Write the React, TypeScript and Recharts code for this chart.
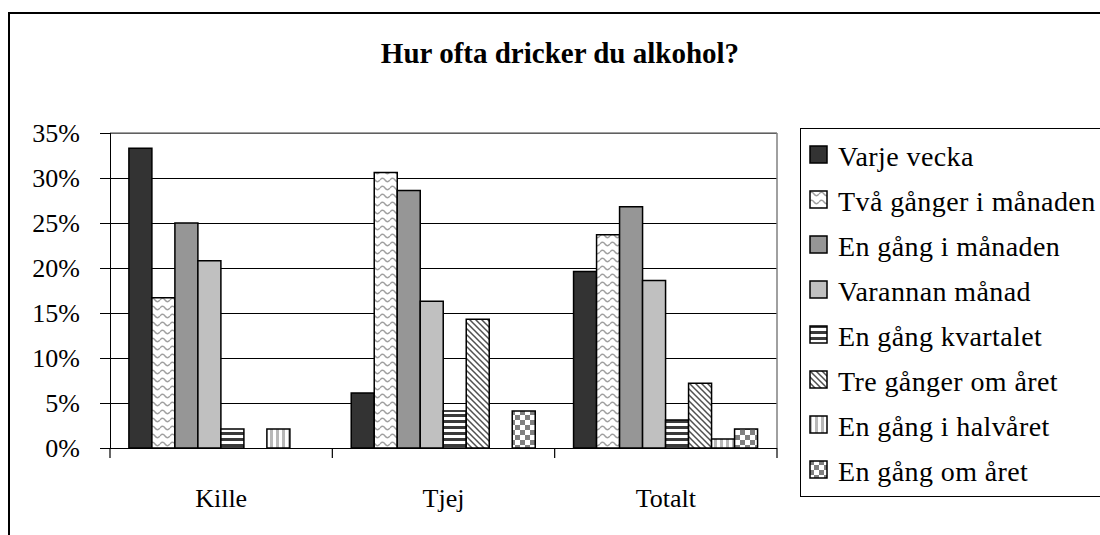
import React from 'react';
import { BarChart, Bar, XAxis, YAxis, CartesianGrid, ReferenceLine } from 'recharts';

const categories = ['Kille', 'Tjej', 'Totalt'];
const seriesNames = [
  'Varje vecka',
  'Två gånger i månaden',
  'En gång i månaden',
  'Varannan månad',
  'En gång kvartalet',
  'Tre gånger om året',
  'En gång i halvåret',
  'En gång om året',
];
const varjeVecka = [0.333, 0.061, 0.196];
const tvaGangerIManaden = [0.167, 0.306, 0.237];
const enGangIManaden = [0.25, 0.286, 0.268];
const varannanManad = [0.208, 0.163, 0.186];
const enGangKvartalet = [0.021, 0.041, 0.031];
const treGangerOmAret = [0, 0.143, 0.072];
const enGangIHalvaret = [0.021, 0, 0.01];
const enGangOmAret = [0, 0.041, 0.021];
const yTicks = [0, 0.05, 0.1, 0.15, 0.2, 0.25, 0.3, 0.35];
const boundaryTicks = [0, 1, 2, 3];

const seriesValues = [
  varjeVecka,
  tvaGangerIManaden,
  enGangIManaden,
  varannanManad,
  enGangKvartalet,
  treGangerOmAret,
  enGangIHalvaret,
  enGangOmAret,
];
const seriesFills = [
  '#333333',
  'url(#pWave)',
  '#969696',
  '#c0c0c0',
  'url(#pHStripe)',
  'url(#pDiag)',
  'url(#pVStripe)',
  'url(#pCheck)',
];

// slot = category index + 0.5, used by the boundary-tick numeric axis
const data = categories.map((c, i) => {
  const row: Record<string, string | number> = { name: c, slot: i + 0.5 };
  seriesNames.forEach((s, j) => {
    row[s] = seriesValues[j][i];
  });
  return row;
});

const FONT = '"Liberation Serif", "Times New Roman", serif';

function Patterns() {
  return (
    <svg width="0" height="0" style={{ position: 'absolute' }}>
      <defs>
        <pattern id="pWave" width="10" height="8" patternUnits="userSpaceOnUse">
          <rect width="10" height="8" fill="#fff" />
          <path d="M0 4 Q2.5 0.5 5 4 T10 4" fill="none" stroke="#a0a0a0" strokeWidth="1.4" />
        </pattern>
        <pattern id="pHStripe" width="6" height="6" patternUnits="userSpaceOnUse">
          <rect width="6" height="6" fill="#fff" />
          <rect width="6" height="3" fill="#3a3a3a" />
        </pattern>
        <pattern id="pDiag" width="6" height="6" patternUnits="userSpaceOnUse">
          <rect width="6" height="6" fill="#fff" />
          <path d="M0 0 L6 6 M-1 5 L1 7 M5 -1 L7 1" stroke="#505050" strokeWidth="1.5" />
        </pattern>
        <pattern id="pVStripe" width="6" height="6" patternUnits="userSpaceOnUse">
          <rect width="6" height="6" fill="#fff" />
          <rect width="3" height="6" fill="#b8b8b8" />
        </pattern>
        <pattern id="pCheck" width="10" height="10" patternUnits="userSpaceOnUse">
          <rect width="10" height="10" fill="#fff" />
          <rect width="5" height="5" fill="#808080" />
          <rect x="5" y="5" width="5" height="5" fill="#808080" />
        </pattern>
      </defs>
    </svg>
  );
}

export default function App() {
  return (
    <div
      style={{
        position: 'absolute',
        left: 0,
        top: 0,
        width: 1100,
        height: 535,
        overflow: 'hidden',
        background: '#fff',
        fontFamily: FONT,
      }}
    >
      <Patterns />
      <div
        style={{
          position: 'absolute',
          left: 8,
          top: 12,
          width: 1200,
          height: 700,
          border: '2px solid #000',
          boxSizing: 'border-box',
        }}
      />
      <div
        style={{
          position: 'absolute',
          left: 310,
          top: 39,
          width: 500,
          textAlign: 'center',
          fontWeight: 'bold',
          fontSize: 29,
          lineHeight: '29px',
          color: '#000',
          whiteSpace: 'nowrap',
        }}
      >
        Hur ofta dricker du alkohol?
      </div>
      <div style={{ position: 'absolute', left: 0, top: 0 }}>
        <BarChart
          width={1100}
          height={535}
          data={data}
          margin={{ top: 133, right: 323, bottom: 26, left: 0 }}
          barCategoryGap="8.5%"
          barGap={0}
        >
          <CartesianGrid
            vertical={false}
            stroke="#000"
            strokeWidth={1}
            xAxisId="b"
            shapeRendering="crispEdges"
          />
          <XAxis
            xAxisId="b"
            dataKey="name"
            type="category"
            height={60}
            tickLine={false}
            axisLine={false}
            tickSize={0}
            tickMargin={40}
            tick={{ fontSize: 26, fill: '#000', fontFamily: FONT }}
          />
          <XAxis
            xAxisId="a"
            dataKey="slot"
            type="number"
            domain={[0, categories.length]}
            allowDataOverflow
            ticks={boundaryTicks}
            tickFormatter={() => ''}
            height={1}
            tickSize={10}
            tickLine={{ stroke: '#000', strokeWidth: 1.2 }}
            axisLine={{ stroke: '#000', shapeRendering: 'crispEdges' }}
          />
          <YAxis
            width={110}
            domain={[0, 0.35]}
            ticks={yTicks}
            allowDataOverflow
            tickFormatter={(v: number) => `${Math.round(v * 100)}%`}
            tickSize={10}
            tickMargin={20}
            tickLine={{ stroke: '#000', shapeRendering: 'crispEdges' }}
            axisLine={{ stroke: '#000', shapeRendering: 'crispEdges' }}
            tick={{ fontSize: 26, fill: '#000', fontFamily: FONT }}
          />
          <ReferenceLine y={0.35} xAxisId="b" stroke="#808080" strokeWidth={1.5} />
          <ReferenceLine x={categories.length} xAxisId="a" stroke="#808080" strokeWidth={1.5} />
          {seriesNames.map((s, j) => (
            <Bar
              key={s}
              dataKey={s}
              xAxisId="b"
              fill={seriesFills[j]}
              stroke="#000"
              strokeWidth={1.5}
              isAnimationActive={false}
            />
          ))}
        </BarChart>
      </div>
      <div
        style={{
          position: 'absolute',
          left: 800,
          top: 128,
          width: 400,
          height: 369,
          border: '1px solid #000',
          boxSizing: 'border-box',
        }}
      >
        {seriesNames.map((s, j) => (
          <div key={s} style={{ position: 'absolute', left: 0, top: 14 + j * 45, height: 28 }}>
            <svg width="19" height="19" style={{ position: 'absolute', left: 8, top: 2 }}>
              <rect x="1" y="1" width="17" height="17" fill={seriesFills[j]} stroke="#000" strokeWidth="1.5" />
            </svg>
            <div
              style={{
                position: 'absolute',
                left: 37,
                top: 0,
                fontSize: 28,
                lineHeight: '28px',
                letterSpacing: 0.4,
                whiteSpace: 'nowrap',
                color: '#000',
              }}
            >
              {s}
            </div>
          </div>
        ))}
      </div>
    </div>
  );
}
